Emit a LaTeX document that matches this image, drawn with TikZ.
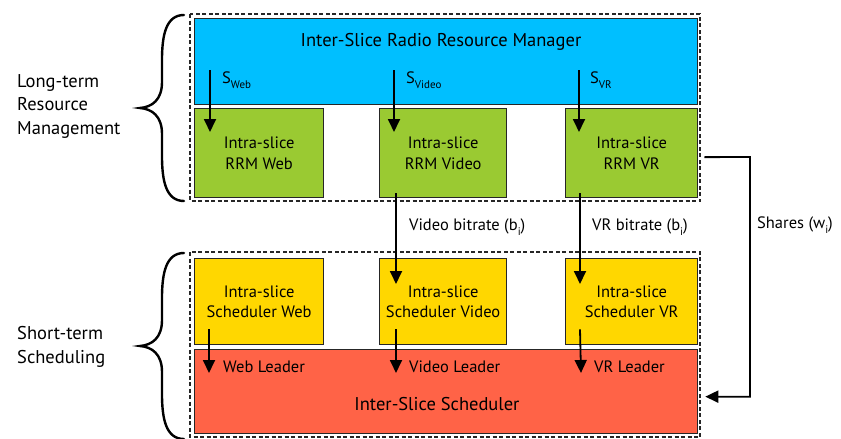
\documentclass[tikz,border=0pt]{standalone}
\usepackage{fontspec}
\setmainfont{PT Sans}
\usetikzlibrary{arrows.meta,calc}
\definecolor{cblue}{RGB}{0,191,255}
\definecolor{cgreen}{RGB}{154,202,50}
\definecolor{cyellow}{RGB}{255,215,0}
\definecolor{cred}{RGB}{255,99,71}
\tikzset{
  boxbase/.style={draw=black!85,line width=1.3pt,anchor=north west,inner sep=0pt,align=center,font=\fontsize{16.5}{20.5}\selectfont},
  dashbox/.style={draw=black!85,line width=2.2pt,dash pattern=on 4pt off 2.5pt},
  arr/.style={line width=1.8pt,-{Triangle[length=13pt,width=12pt]}},
  lbl/.style={anchor=west,inner sep=0pt,font=\fontsize{16.5}{20}\selectfont},
  side/.style={anchor=west,inner sep=0pt,align=left,font=\fontsize{18.5}{23.5}\selectfont},
  brace/.style={line width=2.4pt,line cap=round}
}
\newcommand{\subtx}[1]{\raisebox{-4.5pt}{\fontsize{11}{12}\selectfont #1}}
\begin{document}
\begin{tikzpicture}[x=1pt,y=-1pt]
\useasboundingbox (0,0) rectangle (841,439);
% dashed groups
\draw[dashbox] (190,14) rectangle (700,201);
\draw[dashbox] (190,252) rectangle (700,437);
% top group
\node[boxbase,fill=cblue,minimum width=503pt,minimum height=86pt] (b) at (194,18) {};
\node[inner sep=0pt,font=\fontsize{18.5}{20}\selectfont] (bt) at (441,42) {Inter-Slice Radio Resource Manager};
\node[boxbase,fill=cgreen,minimum width=129pt,minimum height=89pt] (g1) at (194,108) {Intra-slice\\RRM Web};
\node[boxbase,fill=cgreen,minimum width=127pt,minimum height=89pt] (g2) at (379,108) {Intra-slice\\RRM Video};
\node[boxbase,fill=cgreen,minimum width=132pt,minimum height=89pt] (g3) at (565,108) {Intra-slice\\RRM VR};
% bottom group
\node[boxbase,fill=cyellow,minimum width=129pt,minimum height=86pt] (y1) at (194,258) {Intra-slice\\Scheduler Web};
\node[boxbase,fill=cyellow,minimum width=127pt,minimum height=86pt] (y2) at (379,258) {Intra-slice\\Scheduler Video};
\node[boxbase,fill=cyellow,minimum width=132pt,minimum height=86pt] (y3) at (565,258) {Intra-slice\\Scheduler VR};
\node[boxbase,fill=cred,minimum width=503pt,minimum height=84pt] (r) at (194,349) {};
\node[inner sep=0pt,font=\fontsize{18.5}{20}\selectfont] (rt) at (437,404) {Inter-Slice Scheduler};
% top arrows
\draw[arr] ([xshift=16pt,yshift=38pt]g1.north west) -- ([xshift=16pt,yshift=-24pt]g1.north west);
\draw[arr] ([xshift=15pt,yshift=38pt]g2.north west) -- ([xshift=15pt,yshift=-24pt]g2.north west);
\draw[arr] ([xshift=14pt,yshift=38pt]g3.north west) -- ([xshift=14pt,yshift=-24pt]g3.north west);
\node[lbl] (sw) at (222,80) {S\subtx{Web}};
\node[lbl] (sv) at (406,80) {S\subtx{Video}};
\node[lbl] (sr) at (590,80) {S\subtx{VR}};
% middle arrows
\draw[arr] ([xshift=17pt,yshift=5pt]g2.south west) -- ([xshift=17pt,yshift=-26pt]y2.north west);
\draw[arr] ([xshift=15pt,yshift=5pt]g3.south west) -- ([xshift=15pt,yshift=-26pt]y3.north west);
\node[lbl] (vb) at (409,227) {Video bitrate (b\subtx{i})};
\node[lbl] (rb) at (592,227) {VR bitrate (b\subtx{i})};
% bottom arrows
\draw[arr] ([xshift=15pt,yshift=16pt]y1.south west) -- ([xshift=15pt,yshift=-24pt]r.north west);
\draw[arr] ([xshift=17pt,yshift=16pt]y2.south west) -- ([xshift=202pt,yshift=-24pt]r.north west);
\draw[arr] ([xshift=15pt,yshift=16pt]y3.south west) -- ([xshift=387pt,yshift=-24pt]r.north west);
\node[lbl] (wl) at (223,367) {Web Leader};
\node[lbl] (vl) at (409,367) {Video Leader};
\node[lbl] (vrl) at (594,367) {VR Leader};
% shares
\coordinate (sc) at (750,157);
\draw[line width=1.8pt,-{Triangle[length=13pt,width=12pt]}] ([xshift=6pt,yshift=-4pt]g3.east) -- (sc) |- ([xshift=7pt,yshift=-5pt]r.east);
\node[lbl] (sh) at (757,225) {Shares (w\subtx{i})};
% braces
\draw[brace] (184,15) .. controls (166,15) and (162,35) .. (162,60) -- (162,82) .. controls (162,100) and (152,107) .. (140,108) .. controls (152,109) and (162,116) .. (162,134) -- (162,156) .. controls (162,181) and (166,201) .. (184,201);
\draw[brace] (184,253) .. controls (166,253) and (162,273) .. (162,298) -- (162,320) .. controls (162,338) and (152,345) .. (140,346) .. controls (152,347) and (162,354) .. (162,372) -- (162,394) .. controls (162,419) and (166,439) .. (184,439);
\node[side] (lt) at (17,106) {Long-term\\Resource\\Management};
\node[side] (st) at (17,347) {Short-term\\Scheduling};
\end{tikzpicture}
\end{document}
